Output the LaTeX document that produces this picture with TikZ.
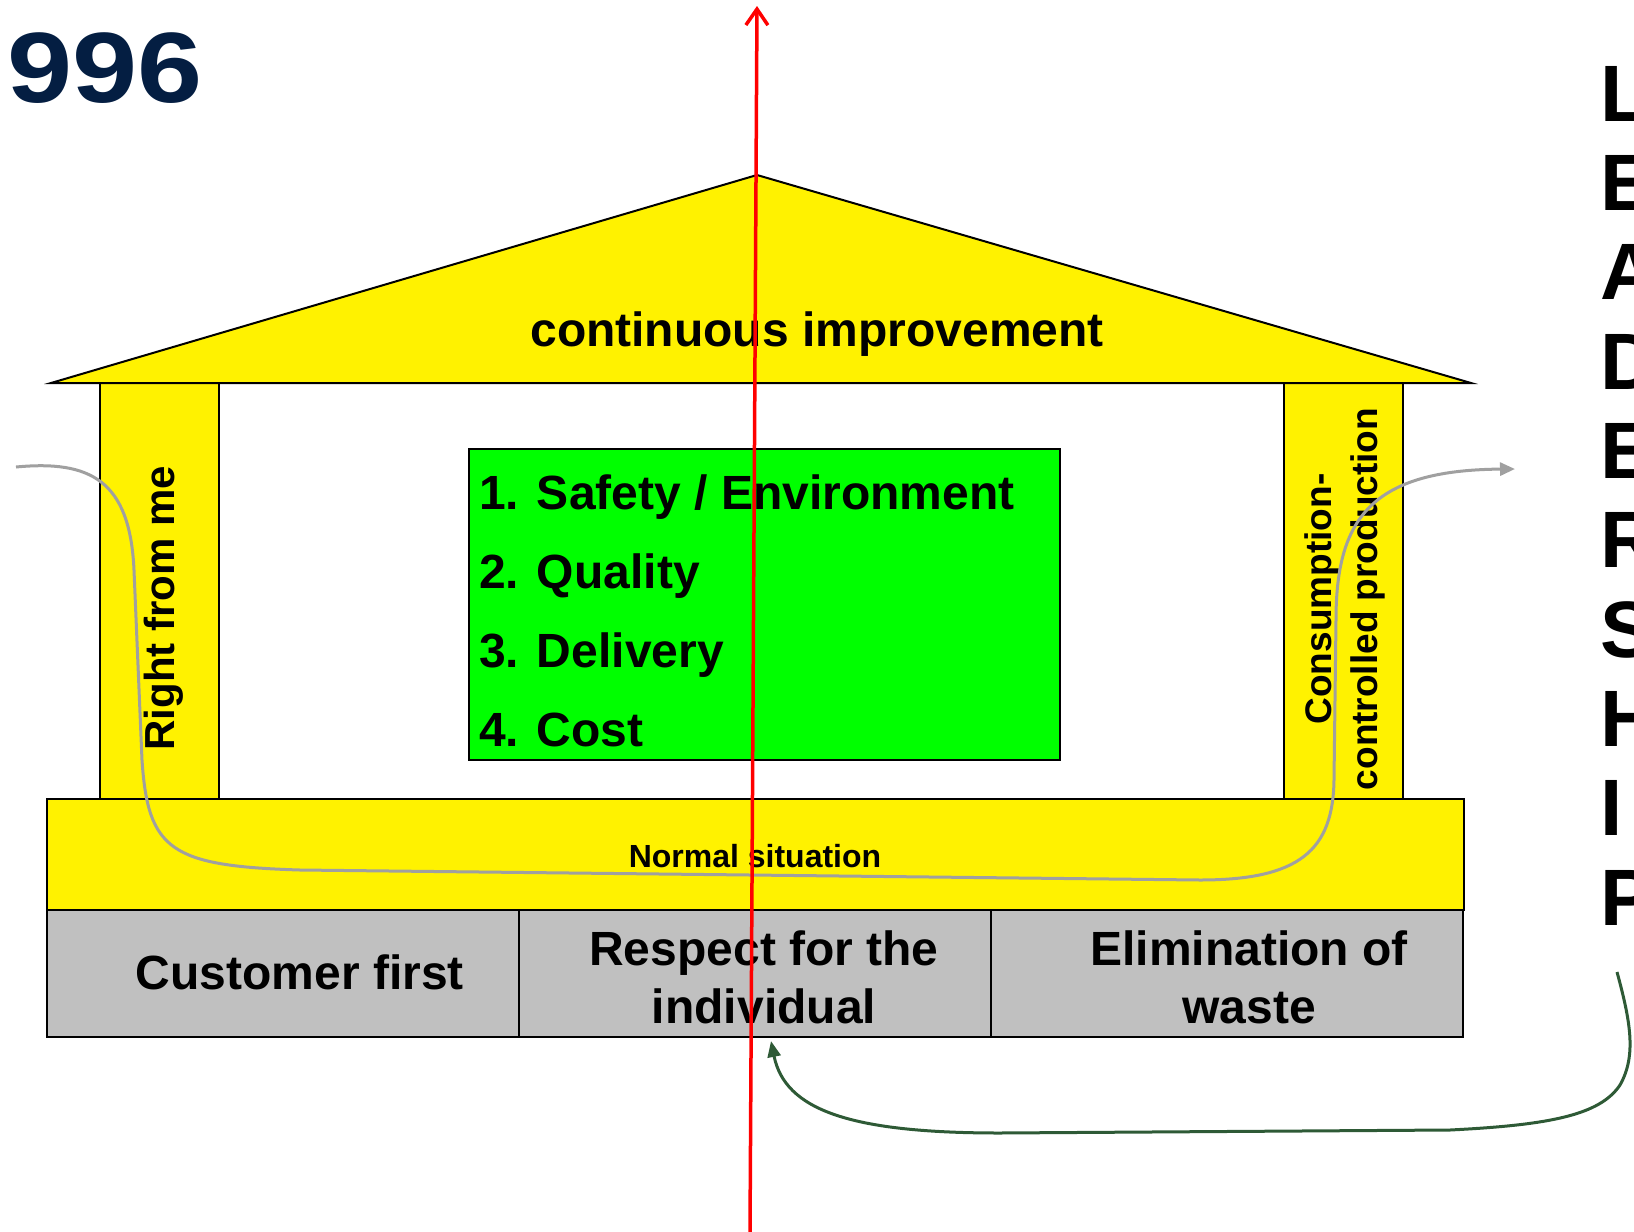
\documentclass[tikz,border=0pt]{standalone}
\usepackage{graphicx}
\usepackage{fontspec}
\setmainfont{Liberation Sans}
\usepackage{tikz}
\usetikzlibrary{arrows.meta}

\definecolor{navy}{HTML}{041E42}
\definecolor{cellgray}{HTML}{C0C0C0}
\definecolor{flowgray}{HTML}{A0A0A0}
\definecolor{loopgreen}{HTML}{2E5A36}

\begin{document}
\begin{tikzpicture}[x=1pt,y=-1pt,
        part/.style={draw=black,line width=2pt,inner sep=0pt},
        pillar/.style={part,fill=yellow,minimum width=119pt,minimum height=416pt},
        cell/.style={part,fill=cellgray,minimum width=472pt,minimum height=127pt},
        big/.style={inner sep=0pt,align=center,font=\bfseries\fontsize{48}{58}\selectfont},
        letter/.style={inner sep=0pt,anchor=base west,font=\bfseries\fontsize{80}{80}\selectfont}]
            \useasboundingbox (0,0) rectangle (1634,1232);
            \node[anchor=base west,inner sep=0pt,text=navy,font=\bfseries\fontsize{100}{100}\selectfont] (year) at (7,102) {\scalebox{1.17}[1]{996}};
            % house
            \node[pillar] (leftpillar) at (159.5,591) {};
            \node[pillar] (rightpillar) at (1343.5,591) {};
            \draw[fill=yellow,line width=2pt] (51,383) -- (757,175) -- (1471,383) -- cycle;
            \node[big] (roof) at (817,334) {continuous improvement};
            \node[part,fill=yellow,minimum width=1417pt,minimum height=111pt] (base) at (755.5,854.5) {};
            \node[inner sep=0pt,font=\bfseries\fontsize{32}{38}\selectfont] (normal) at (755,856) {Normal situation};
            \node[inner sep=0pt,rotate=90,font=\bfseries\fontsize{42}{50}\selectfont] (rightfromme) at (164,608) {Right from me};
            \node[inner sep=0pt,rotate=90,align=center,font=\bfseries\fontsize{37}{46}\selectfont] (consumption) at (1344.5,599) {Consumption-\\controlled production};
            \node[cell] (customer) at (283,973.5) {};
            \node[cell] (respect) at (755,973.5) {};
            \node[cell] (waste) at (1227,973.5) {};
            \node[big] (customertext) at (300,972) {Customer first};
            \node[big] (respecttext) at (764,977) {Respect for the\\individual};
            \node[big] (wastetext) at (1249,977) {Elimination of\\waste};
            % targets
            \node[part,fill=green,minimum width=591pt,minimum height=311pt] (goals) at (764.5,604.5) {};
            \foreach \txt [count=\i] in {1. Safety / Environment,2. Quality,3. Delivery,4. Cost}
                \node[big,anchor=base west] (item\i) at (479,430+79*\i) {\txt};
            \foreach \c [count=\i] in {L,E,A,D,E,R,S,H,I,P}
                \node[letter] (lead\i) at (1600,32+89.3*\i) {\c};
            % flows
            \coordinate (flowstart) at (16,467);
            \coordinate (flowend) at (1515,469);
            \draw[flowgray,line width=3pt,-{Triangle[length=15pt,width=13pt]}] (flowstart)
                .. controls (90,460) and (130,480) .. (134,570) -- (142,760)
                .. controls (148,850) and (170,866) .. (300,870) -- (1200,880)
                .. controls (1300,880) and (1333,850) .. (1334,780) -- (1336,620)
                .. controls (1336,520) and (1370,470) .. (flowend);
            \coordinate (loopstart) at (1617,972);
            \draw[loopgreen,line width=3pt,-{Triangle[length=16pt,width=13pt]}] (loopstart)
                .. controls (1630,1020) and (1637,1055) .. (1620,1085)
                .. controls (1600,1115) and (1550,1125) .. (1450,1130) -- (1000,1133)
                .. controls (850,1133) and (785,1110) .. ([xshift=16pt,yshift=-3pt]respect.south);
            \coordinate (axisbottom) at (750,1232);
            \coordinate (axistop) at (757,6);
            \draw[red,line width=3.5pt,-{Straight Barb[length=16pt,width=22pt]}] (axisbottom) -- (axistop);
\end{tikzpicture}
\end{document}
